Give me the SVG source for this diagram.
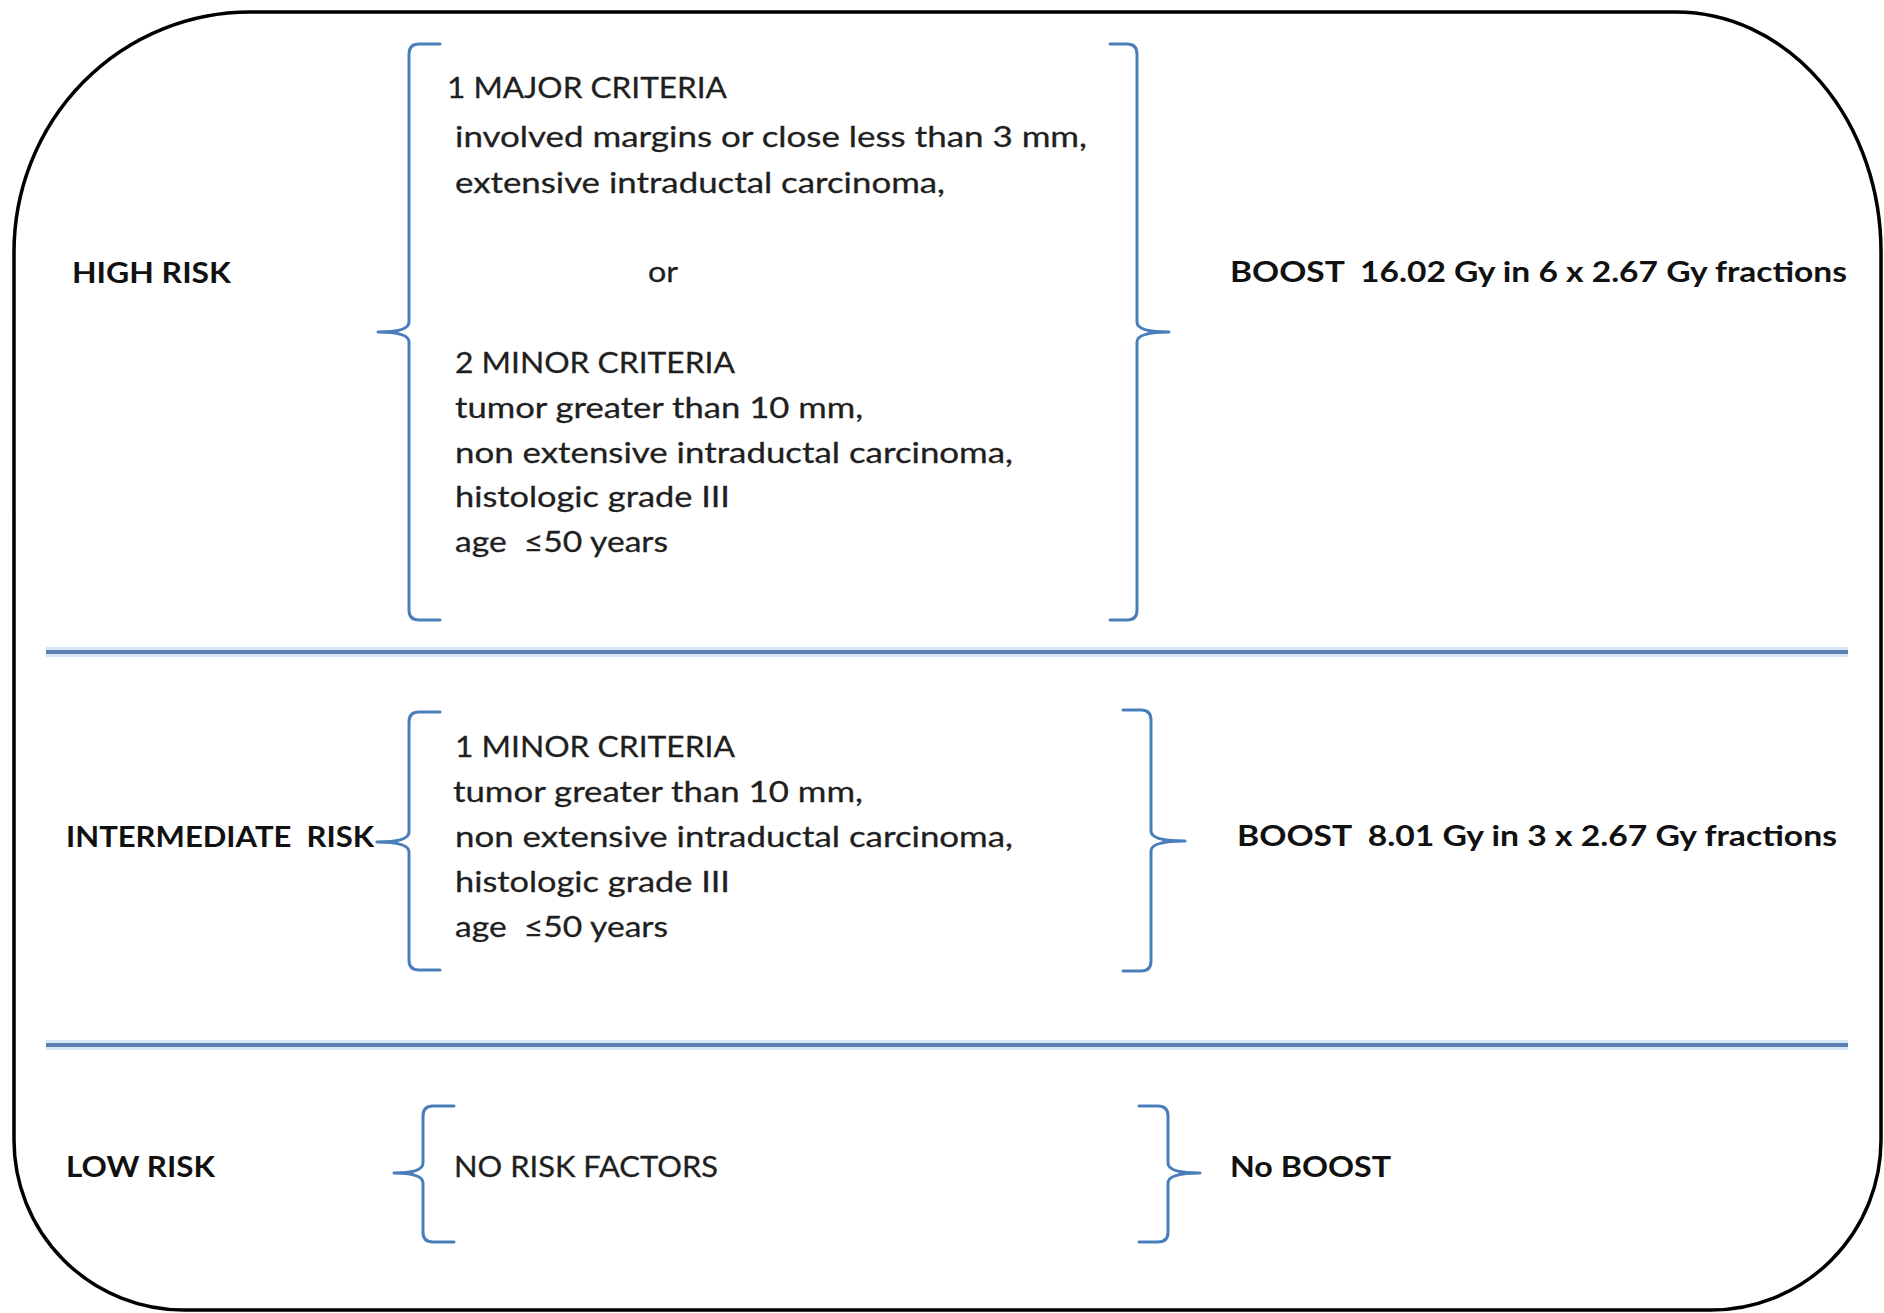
<svg xmlns="http://www.w3.org/2000/svg" width="1884" height="1313" viewBox="0 0 1884 1313">
  <style>
    .lbl { font-family: Lato, "Liberation Sans", sans-serif; font-weight: bold; font-size: 29px; fill: #111111; }
    .txt { font-family: Lato, "Liberation Sans", sans-serif; font-size: 29px; fill: #1f1f1f; stroke: #1f1f1f; stroke-width: 0.3; }
    .brace { fill: none; stroke: #4a7ebb; stroke-width: 3; stroke-linejoin: round; stroke-linecap: round; }
    .sep-glow { stroke: #d6e8f7; stroke-width: 10; }
    .sep { stroke: #5b80b0; stroke-width: 4; }
    .frame { fill: #ffffff; stroke: #000000; stroke-width: 3.5; }
  </style>

  <rect width="1884" height="1313" fill="#ffffff"/>

  <g id="frame">
    <path class="frame" d="M250,12 L1676,12 A205,240 0 0 1 1881,252 L1881,1140 A170,170 0 0 1 1711,1310 L184,1310 A170,170 0 0 1 14,1140 L14,252 A236,240 0 0 1 250,12 Z"/>
    <line class="sep-glow" x1="46" y1="652" x2="1848" y2="652"/>
    <line class="sep" x1="46" y1="652" x2="1848" y2="652"/>
    <line class="sep-glow" x1="46" y1="1045" x2="1848" y2="1045"/>
    <line class="sep" x1="46" y1="1045" x2="1848" y2="1045"/>
  </g>

  <g id="connectors">
    <!-- high risk braces -->
    <path class="brace" d="M440,44 L419,44 Q409,44 409,54 L409,322 Q409,332 378,332 M378,332 Q409,332 409,342 L409,610 Q409,620 419,620 L440,620"/>
    <path class="brace" d="M1110,44 L1127,44 Q1137,44 1137,54 L1137,322 Q1137,332 1169,332 M1169,332 Q1137,332 1137,342 L1137,610 Q1137,620 1127,620 L1110,620"/>
    <!-- intermediate risk braces -->
    <path class="brace" d="M440,712 L419,712 Q409,712 409,722 L409,832 Q409,842 377,842 M377,842 Q409,842 409,852 L409,960 Q409,970 419,970 L440,970"/>
    <path class="brace" d="M1123,710 L1141,710 Q1151,710 1151,720 L1151,831 Q1151,841 1185,841 M1185,841 Q1151,841 1151,851 L1151,961 Q1151,971 1141,971 L1123,971"/>
    <!-- low risk braces -->
    <path class="brace" d="M454,1106 L433,1106 Q423,1106 423,1116 L423,1163 Q423,1173 394,1173 M394,1173 Q423,1173 423,1183 L423,1232 Q423,1242 433,1242 L454,1242"/>
    <path class="brace" d="M1139,1106 L1158,1106 Q1168,1106 1168,1116 L1168,1163 Q1168,1173 1200,1173 M1200,1173 Q1168,1173 1168,1183 L1168,1232 Q1168,1242 1158,1242 L1139,1242"/>
  </g>

  <g id="high-risk">
    <text class="lbl" x="72" y="283" textLength="159" lengthAdjust="spacingAndGlyphs">HIGH RISK</text>
  </g>
  <g id="high-criteria">
    <text class="txt" x="447" y="98" textLength="280" lengthAdjust="spacingAndGlyphs">1 MAJOR CRITERIA</text>
    <text class="txt" x="455" y="147" textLength="632" lengthAdjust="spacingAndGlyphs">involved margins or close less than 3 mm,</text>
    <text class="txt" x="455" y="193" textLength="490" lengthAdjust="spacingAndGlyphs">extensive intraductal carcinoma,</text>
    <text class="txt" x="648" y="282" textLength="30" lengthAdjust="spacingAndGlyphs">or</text>
    <text class="txt" x="455" y="373" textLength="280" lengthAdjust="spacingAndGlyphs">2 MINOR CRITERIA</text>
    <text class="txt" x="455" y="418" textLength="408" lengthAdjust="spacingAndGlyphs">tumor greater than 10 mm,</text>
    <text class="txt" x="455" y="463" textLength="558" lengthAdjust="spacingAndGlyphs">non extensive intraductal carcinoma,</text>
    <text class="txt" x="455" y="507" textLength="275" lengthAdjust="spacingAndGlyphs">histologic grade III</text>
    <text class="txt" x="455" y="552" textLength="213" lengthAdjust="spacingAndGlyphs">age&#160; ≤50 years</text>
  </g>
  <g id="high-boost">
    <text class="lbl" x="1230" y="282" textLength="617" lengthAdjust="spacingAndGlyphs">BOOST&#160; 16.02 Gy in 6 x 2.67 Gy fractions</text>
  </g>

  <g id="intermediate-risk">
    <text class="lbl" x="66" y="847" textLength="308" lengthAdjust="spacingAndGlyphs">INTERMEDIATE&#160; RISK</text>
  </g>
  <g id="intermediate-criteria">
    <text class="txt" x="455" y="757" textLength="280" lengthAdjust="spacingAndGlyphs">1 MINOR CRITERIA</text>
    <text class="txt" x="453" y="802" textLength="410" lengthAdjust="spacingAndGlyphs">tumor greater than 10 mm,</text>
    <text class="txt" x="455" y="847" textLength="558" lengthAdjust="spacingAndGlyphs">non extensive intraductal carcinoma,</text>
    <text class="txt" x="455" y="892" textLength="275" lengthAdjust="spacingAndGlyphs">histologic grade III</text>
    <text class="txt" x="455" y="937" textLength="213" lengthAdjust="spacingAndGlyphs">age&#160; ≤50 years</text>
  </g>
  <g id="intermediate-boost">
    <text class="lbl" x="1237" y="846" textLength="600" lengthAdjust="spacingAndGlyphs">BOOST&#160; 8.01 Gy in 3 x 2.67 Gy fractions</text>
  </g>

  <g id="low-risk">
    <text class="lbl" x="66" y="1177" textLength="149" lengthAdjust="spacingAndGlyphs">LOW RISK</text>
  </g>
  <g id="low-criteria">
    <text class="txt" x="454" y="1177" textLength="264" lengthAdjust="spacingAndGlyphs">NO RISK FACTORS</text>
  </g>
  <g id="low-boost">
    <text class="lbl" x="1230" y="1177" textLength="161" lengthAdjust="spacingAndGlyphs">No BOOST</text>
  </g>
</svg>
